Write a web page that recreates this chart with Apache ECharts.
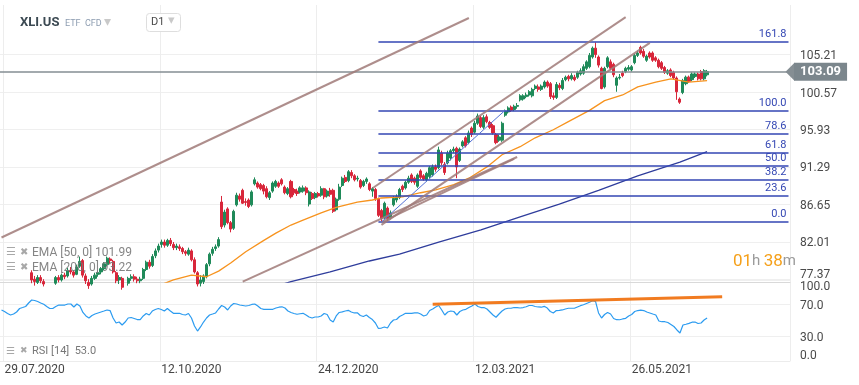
<!DOCTYPE html>
<html><head><meta charset="utf-8">
<script src="https://cdn.jsdelivr.net/npm/echarts@6/dist/echarts.min.js"></script>
<style>html,body{margin:0;padding:0;background:#fff}#c{width:859px;height:385px}</style>
</head><body><div id="c"></div>
<script>
// ---------- data ----------
const startDate = '2020-07-28';
const holidays = ['2020-09-07','2020-11-26','2020-12-25','2021-01-01','2021-01-18','2021-02-15','2021-04-02','2021-05-31','2021-07-05'];
const slotCount = 262;
const tickDates = ['29.07.2020','12.10.2020','24.12.2020','12.03.2021','26.05.2021'];
const priceTicks = [77.37, 82.01, 86.65, 91.29, 95.93, 100.57, 105.21];
const rsiTicks = [0, 30, 70, 100];
const lastPrice = 103.09;
// [open, close, low, high]
const ohlc = [
[71.8,71.3,71.0,72.1],[71.4,72.3,71.2,72.5],[72.2,71.8,71.5,72.4],[71.7,71.4,70.9,71.9],[71.5,72.3,71.3,72.6],
[72.3,72.9,72.1,73.1],[73.0,74.0,72.9,74.2],[74.0,74.4,73.7,74.6],[74.3,75.1,74.0,75.3],[75.4,76.6,75.2,76.8],
[78.2,77.3,76.9,78.5],[77.4,77.1,76.6,77.8],[77.0,77.6,76.8,77.9],[77.6,77.2,76.9,77.9],[77.1,76.8,76.5,77.4],
[76.8,76.4,76.1,77.0],[76.3,76.1,75.8,76.7],[76.2,76.6,76.0,76.9],[76.9,77.6,76.7,77.8],[77.6,77.3,77.0,77.9],
[77.3,77.9,77.1,78.1],[77.9,77.7,77.4,78.2],[77.8,78.5,77.6,78.8],[78.5,78.3,78.0,78.9],[78.3,77.9,77.6,78.5],
[78.0,78.9,77.9,79.2],[79.0,79.6,78.8,80.2],[79.7,77.9,77.6,79.9],[77.8,77.2,76.8,78.1],[77.0,76.6,76.2,77.4],
[76.8,77.5,76.6,77.8],[77.5,77.9,77.3,78.2],[78.0,78.2,77.7,78.5],[78.3,78.7,78.0,78.9],[78.7,79.3,78.5,79.5],
[79.2,80.0,79.0,80.2],[79.9,79.7,79.3,80.1],[79.6,78.3,78.1,79.8],[78.2,77.2,76.9,78.4],[77.3,77.6,76.8,77.9],
[77.5,76.4,76.1,77.7],[76.4,76.8,75.9,77.0],[76.9,77.5,76.6,77.7],[77.5,77.7,77.2,78.0],[77.7,77.4,77.1,78.0],
[77.4,77.2,76.9,77.7],[77.2,77.4,76.9,77.7],[77.5,78.6,77.3,78.8],[78.6,79.5,78.4,79.7],[79.5,79.0,78.7,79.8],
[79.1,80.2,78.9,80.5],[80.3,80.9,80.0,81.2],[81.0,81.5,80.7,81.8],[81.7,82.0,81.3,82.3],[82.0,81.6,81.3,82.3],
[81.6,82.2,81.4,82.4],[82.2,81.8,81.5,82.5],[81.7,81.3,81.0,82.0],[81.3,81.5,81.0,81.8],[81.4,81.2,80.9,81.7],
[81.2,80.8,80.5,81.4],[80.8,80.6,80.3,81.0],[80.5,81.0,80.3,81.3],[80.9,79.8,79.6,81.1],[79.8,78.3,78.1,80.1],
[78.2,76.8,76.5,78.4],[76.9,77.3,76.5,77.9],[77.1,77.8,76.8,78.0],[77.7,79.2,77.5,79.4],[79.3,80.5,79.0,80.7],
[80.6,81.1,80.3,81.4],[81.2,81.4,80.9,81.7],[81.5,82.3,81.3,82.6],[86.95,83.9,83.6,87.7],[84.1,85.7,83.8,86.0],
[86.1,84.4,84.2,86.3],[84.4,83.6,83.2,84.6],[83.7,85.8,83.5,86.0],[86.6,87.8,86.4,88.1],[87.7,87.3,87.0,88.0],
[88.4,86.8,86.7,88.6],[87.0,86.9,86.5,87.4],[87.2,86.4,86.2,87.4],[86.6,88.2,86.4,88.4],[89.2,89.7,89.0,90.0],
[89.3,88.8,88.6,89.5],[89.1,88.6,88.4,89.3],[89.0,88.3,87.9,89.2],[88.6,87.6,87.4,88.9],[87.5,88.1,87.2,88.3],
[88.3,89.3,88.1,89.5],[88.9,89.5,88.7,89.7],[89.3,88.9,88.7,89.5],[89.7,89.2,89.0,89.9],[88.8,88.1,87.9,89.0],
[88.0,88.6,87.8,88.8],[89.5,87.6,87.4,89.7],[88.5,88.1,87.8,88.7],[88.3,88.0,87.7,88.6],[88.2,88.7,88.0,88.9],
[88.3,88.7,88.1,89.0],[88.7,88.1,87.8,88.9],[86.7,88.2,86.4,88.4],[88.0,87.4,87.2,88.2],[87.5,88.0,87.3,88.2],
[88.0,87.7,87.5,88.2],[87.8,88.6,87.6,88.9],[88.6,87.6,87.3,88.7],[87.7,88.3,87.5,88.5],[88.4,87.9,87.6,88.7],
[88.4,85.8,85.6,88.6],[86.0,87.3,85.8,87.5],[87.3,88.8,87.1,89.2],[89.0,89.9,88.8,90.1],[90.0,89.5,89.3,90.3],
[89.6,90.7,89.4,90.9],[90.6,90.2,89.9,90.9],[90.2,89.7,89.5,90.4],[89.8,89.9,89.5,90.2],[89.6,88.8,88.6,89.8],
[89.0,89.5,88.8,89.7],[89.5,89.8,89.2,90.0],[89.2,88.5,88.3,89.4],[88.3,88.6,87.6,88.8],[88.5,87.4,87.1,88.7],
[87.3,85.3,85.1,87.5],[85.9,84.9,84.5,86.1],[85.0,86.8,84.8,87.0],[86.2,84.9,84.6,86.4],[85.0,85.6,84.8,85.9],
[86.6,87.4,86.4,87.7],[87.2,87.6,86.9,87.9],[87.5,88.5,87.3,88.7],[88.9,88.5,88.2,89.1],[88.7,89.4,88.5,89.6],
[89.4,89.9,89.2,90.2],[90.3,89.5,89.3,90.5],[89.9,89.4,89.1,90.1],[88.9,90.3,88.7,90.5],[90.8,90.0,89.8,91.0],
[90.2,89.8,89.6,90.4],[89.7,90.5,89.5,90.7],[90.1,91.2,89.9,91.4],[90.3,91.3,90.1,91.6],[91.3,91.0,90.7,91.6],
[91.2,93.4,91.0,93.8],[93.0,91.8,91.5,93.3],[91.6,90.6,90.3,91.9],[91.8,93.0,91.6,93.3],[92.4,93.3,92.1,93.5],
[93.3,93.5,93.0,93.8],[93.6,91.3,89.9,93.8],[92.1,93.5,91.9,93.7],[93.9,94.4,93.7,94.6],[94.9,93.9,93.7,95.1],
[94.3,95.5,94.1,95.8],[96.1,95.3,95.0,96.3],[95.6,96.7,95.4,97.0],[96.7,97.6,96.5,97.9],[97.4,96.3,96.1,97.6],
[96.2,97.4,96.0,97.7],[97.5,96.9,96.7,97.8],[96.8,96.2,96.0,97.0],[96.4,95.5,95.3,96.6],[95.3,94.3,94.1,95.5],
[94.6,95.0,94.4,95.3],[94.6,96.7,94.4,96.9],[97.7,98.2,97.5,98.4],[98.1,98.6,97.9,98.8],[98.7,98.3,98.1,98.9],
[98.4,98.8,98.2,99.0],[98.8,98.9,98.5,99.2],[99.6,100.1,99.4,100.3],[99.7,100.1,99.5,100.3],[100.0,100.2,99.8,100.5],
[100.2,100.6,100.0,100.8],[100.1,100.9,99.9,101.1],[101.0,101.3,100.8,101.5],[101.2,100.9,100.6,101.5],[100.9,101.3,100.7,101.5],
[101.2,101.8,101.0,102.0],[101.8,101.3,101.1,102.0],[101.6,100.0,99.7,101.8],[100.1,99.9,99.6,100.5],[99.9,101.5,99.7,101.8],
[101.4,101.1,100.8,101.7],[101.0,102.0,100.8,102.3],[102.1,102.4,101.9,102.6],[102.5,102.2,101.9,102.7],[102.2,102.6,102.0,102.9],
[102.4,102.1,101.9,102.7],[102.4,103.0,102.2,103.2],[102.8,103.2,102.6,103.5],[102.9,103.7,102.7,104.0],[103.5,104.3,103.3,104.5],
[103.7,105.1,103.5,105.4],[104.9,106.0,104.7,106.2],[106.0,105.2,104.8,106.7],[104.9,103.9,103.6,105.1],[103.5,101.0,100.9,103.7],
[101.2,103.5,101.0,103.7],[103.7,104.8,103.5,105.0],[104.3,103.5,103.3,104.6],[104.0,102.7,102.4,104.2],[101.4,102.3,100.6,102.5],
[102.3,102.4,102.1,102.8],[102.9,102.6,102.4,103.2],[103.1,103.5,102.9,103.7],[103.4,103.6,103.2,103.9],[103.3,103.7,103.1,103.9],
[104.2,105.1,104.0,105.3],[105.1,105.4,104.9,105.7],[106.1,105.4,105.2,106.3],[105.6,105.0,104.8,105.9],[104.5,105.0,104.3,105.2],
[105.4,104.9,104.7,105.6],[105.4,104.5,104.3,105.6],[104.8,104.5,104.3,105.0],[104.5,103.7,103.5,104.7],[104.2,103.5,103.3,104.4],
[103.6,103.0,102.8,103.8],[102.9,103.2,102.7,103.4],[103.3,102.6,102.4,103.5],[103.0,102.3,102.1,103.2],[102.3,100.6,99.6,102.5],
[99.7,99.3,99.1,99.9],[100.5,102.0,100.3,102.2],[101.6,102.4,101.4,102.6],[102.4,101.9,101.7,102.6],[102.1,102.8,101.9,103.0],
[102.5,102.8,102.3,103.0],[102.8,102.2,102.0,103.0],[103.1,102.2,102.0,103.3],[102.2,103.2,102.0,103.4],[102.7,103.09,102.5,103.3]
];
const rsi = [
63,61,58.6,56.8,58,60.5,64.8,66,67.3,71.6, 75.3,74.7,73.5,71.6,70,67.3,64.8,64.8,67.3,69.1,
69.1,69.1,70.4,70.4,66.7,70.4,67.9,59.9,55.6,53.1, 56.2,58,59.3,60.5,61.7,63,62.3,53.1,46.9,48.1,
44.4,48.1,53.1,53.7,52.5,51.2,51.2,55.6,58.6,56.8, 61.7,63.6,64.8,63.6,61.7,64.8,61.7,58.9,58.9,58.9,
57.4,56.8,58.6,53.1,43.2,37,42,48.1,53.1,56.8, 58,59.3,64.2,68.5,66.7,63,67.9,71,70.4,69.1,
68.5,67.9,68.5,69.8,70.4,67.9,64.8,63.8,63.8,63.8, 63.8,65.4,66.4,66.9,65.4,61.7,59.9,58.6,57.7,58.3,
58.9,56.8,54.3,53.1,54.3,54.3,55.6,58.6,57.4,50.6, 48.1,55.6,59.9,60.7,61.7,62.6,60.5,59.3,59.5,56.2,
54.9,56.8,53.7,51.2,46.9,40.1,40.7,42,40.7,46.9, 50.6,51.2,54.9,56.8,58.9,58.9,58.9,59.3,59.5,58,
55.6,56.8,62.3,64.2,66.7,68.5,63,56.8,60.5,61.7, 61.1,56.8,61.1,63,63.8,66,67.9,70.4,67.3,66,
66,64.2,60.5,56.8,54,58,61.7,64.2,65.1,65.1, 66,66,65.4,66,67,68.5,68.5,67.3,66.7,66.4,
67.5,65.4,61.1,59.3,62.3,62.6,63,64.2,65.1,65.1, 65.1,66.7,68.3,69.5,71,72.5,74.4,73.5,59.3,53.1,
57.4,59.9,58,52.5,51,50.9,51.9,52.7,55.6,57.4, 61.1,62.3,62.7,62.3,60.5,59.3,58,56.8,49.4,48.5,
48.5,47.5,45.1,42.6,38.3,34.6,44.4,45.4,46.5,47.9, 48.1,46.3,46.9,50.6,53.1
];
// [bar index, value]
const ema50 = [[50,76.3],[57,77.3],[63,77.9],[68,77.7],[72,78.4],[76,79.4],[81,80.8],[87,82.2],[91,83.1],[96,84.1],[100,84.7],[106,85.6],[111,86.3],[118,86.95],[123,87.2],[126,87.45],[133,87.6],[139,88.1],[144,88.45],[150,89.1],[155,89.9],[161,91.3],[166,92.8],[172,93.8],[177,94.9],[183,95.9],[188,96.9],[195,98.3],[200,99.5],[206,100.2],[211,101.2],[217,101.8],[222,102.2],[228,101.8],[234,101.99]];
const ema200 = [[90,76.4],[96,77.1],[109,78.3],[122,79.65],[132,80.5],[145,82.0],[159,83.5],[172,85.1],[185,86.7],[198,88.4],[211,90.2],[225,91.9],[234,93.2]];
const fibLow = 84.47, fibHigh = 98.30, fibStart = 125, fibEnd = 261;
const fibRatios = [0, 23.6, 38.2, 50, 61.8, 78.6, 100, 161.8];
const trendLines = [ [[0,82.56],[155,109.73]], [[123,88.66],[207,109.83]], [[126,84.13],[215,106.65]], [[80,77.09],[171,92.52]], [[126,84.47],[170,92.3]] ];
const fibDiagonal = [[126,84.47],[167,98.30]];
const rsiTrend = [[143,70.0],[239,79.4]];
const legendEma50 = 'EMA [50, 0] 101.99';
const legendEma200 = 'EMA [200, 0] 93.22';
const legendRsi = 'RSI [14]  53.0';

// ---------- build ----------
function pad(n){return (n<10?'0':'')+n;}
function buildDates(){
  const out=[]; const d=new Date(startDate+'T00:00:00Z');
  while(out.length<slotCount){
    const wd=d.getUTCDay(); const iso=d.toISOString().slice(0,10);
    if(wd!==0&&wd!==6&&holidays.indexOf(iso)<0){
      out.push(pad(d.getUTCDate())+'.'+pad(d.getUTCMonth()+1)+'.'+d.getUTCFullYear());
    }
    d.setUTCDate(d.getUTCDate()+1);
  }
  return out;
}
const dates = buildDates();
const isTick = (i, v) => tickDates.indexOf(v) >= 0;

const FONT = 'Roboto, "Noto Sans", sans-serif';
const UP = '#1f8a59', DOWN = '#d8263a';
const BROWN = 'rgba(160,122,120,0.85)';
const FIB = '#3346b3';

const fibData = fibRatios.map(r => {
  const lvl = fibLow + (fibHigh - fibLow) * r / 100;
  return [{coord:[fibStart, lvl], label:{formatter: r.toFixed(1)}}, {coord:[fibEnd, lvl]}];
});

const chart = echarts.init(document.getElementById('c'), null, {renderer:'canvas'});
chart.setOption({
  animation:false,
  backgroundColor:'#fff',
  textStyle:{fontFamily:FONT},
  grid:[
    {left:0, right:69, top:5, height:277, containLabel:false, outerBoundsMode:'none'},
    {left:0, right:69, top:280, height:81, containLabel:false, outerBoundsMode:'none'}
  ],
  xAxis:[
    {type:'category', gridIndex:0, data:dates, boundaryGap:true,
     axisLine:{show:true, lineStyle:{color:'#d9d9d9'}}, axisTick:{show:false}, axisLabel:{show:false},
     splitLine:{show:true, interval:isTick, lineStyle:{color:'#ededed'}}},
    {type:'category', gridIndex:1, data:dates, boundaryGap:true,
     axisLine:{show:true, lineStyle:{color:'#ececec'}}, axisTick:{show:false},
     axisLabel:{interval:isTick, align:'left', color:'#454545', fontSize:12, margin:3, fontFamily:FONT},
     splitLine:{show:true, interval:isTick, lineStyle:{color:'#ededed'}}}
  ],
  yAxis:[
    {type:'value', gridIndex:0, position:'right', min:77.05, max:111.34,
     axisLine:{show:false}, axisTick:{show:false, customValues:priceTicks},
     axisLabel:{customValues:priceTicks, color:'#4a4a4a', fontSize:12, margin:10, fontFamily:FONT,
       formatter:v => v===priceTicks[0] ? '{b|'+v.toFixed(2)+'}' : '{m|'+v.toFixed(2)+'}',
       rich:{b:{padding:[0,0,8,0], color:'#4a4a4a', fontSize:12}, m:{padding:[3,0,0,0], color:'#4a4a4a', fontSize:12}}},
     splitLine:{show:true, lineStyle:{color:'#efefef'}}},
    {type:'value', gridIndex:1, position:'right', min:0, max:100,
     axisLine:{show:false}, axisTick:{show:false, customValues:rsiTicks},
     axisLabel:{customValues:rsiTicks, color:'#4a4a4a', fontSize:12, margin:10, fontFamily:FONT,
       formatter:v => v===100 ? '{t|100.0}' : (v===0 ? '{b|0.0}' : '{m|'+v.toFixed(1)+'}'),
       rich:{t:{padding:[14,0,0,0], color:'#4a4a4a', fontSize:12}, b:{padding:[0,0,10,0], color:'#4a4a4a', fontSize:12}, m:{padding:[3,0,0,0], color:'#4a4a4a', fontSize:12}}},
     splitLine:{show:true, lineStyle:{color:'#efefef'}}}
  ],
  series:[
    {type:'candlestick', xAxisIndex:0, yAxisIndex:0, data:ohlc.map(d=>[d[0],d[1],d[2],d[3]]),
     barWidth:'85%', clip:true,
     itemStyle:{color:UP, color0:DOWN, borderColor:UP, borderColor0:DOWN, borderWidth:1},
     markLine:{silent:true, symbol:['none','none'], animation:false,
       lineStyle:{color:FIB, width:1.5, type:'solid'},
       label:{show:true, position:'insideEndTop', color:FIB, fontSize:11, distance:2, fontFamily:FONT},
       data:fibData}
    },
    {type:'line', xAxisIndex:0, yAxisIndex:0, data:ema50, connectNulls:true, showSymbol:false, symbol:'none',
     lineStyle:{color:'#f7931e', width:1.3}, z:3,
     markLine:{silent:true, animation:false,
       symbol:['none','path://M0,0 L10,0 L5,10 Z'], symbolSize:[18,9],
       lineStyle:{color:'#858e93', width:1.5, type:'solid'},
       itemStyle:{color:'#7b868c'},
       label:{show:true, position:'end', distance:4, formatter:lastPrice.toFixed(2), color:'#fff',
           backgroundColor:'#7b868c', padding:[3,6,2,6], fontSize:13, fontWeight:'bold', fontFamily:FONT},
       data:[{yAxis:lastPrice}]}
    },
    {type:'line', xAxisIndex:0, yAxisIndex:0, data:ema200, connectNulls:true, showSymbol:false, symbol:'none',
     lineStyle:{color:'#2f3d9c', width:1.3}, z:3,
     markLine:{silent:true, symbol:['none','none'], animation:false, label:{show:false},
       lineStyle:{color:BROWN, width:2, type:'solid'},
       data: trendLines.map(l=>[{coord:l[0]},{coord:l[1]}]).concat([
         [{coord:fibDiagonal[0], lineStyle:{color:'#5572d6', width:1}},{coord:fibDiagonal[1]}]
       ])}
    },
    {type:'line', xAxisIndex:1, yAxisIndex:1, data:rsi, showSymbol:false, symbol:'none',
     lineStyle:{color:'#2b9bf0', width:1.2},
     markLine:{silent:true, symbol:['none','none'], animation:false, label:{show:false},
       lineStyle:{color:'rgba(240,116,20,0.95)', width:3, type:'solid'},
       data:[[{coord:rsiTrend[0]},{coord:rsiTrend[1]}]]}
    }
  ],
  graphic:[
    {type:'text', left:20, top:16, z:100, style:{text:'XLI.US', font:'bold 13px '+FONT, fill:'#3b4952'}},
    {type:'text', left:65, top:19, z:100, style:{text:'ETF  CFD', font:'9px '+FONT, fill:'#8c9cb0'}},
    {type:'text', left:104, top:15, z:100, style:{text:'▾', font:'14px '+FONT, fill:'#c9c9c9'}},
    {type:'rect', left:146, top:13, z:100, shape:{width:34, height:18, r:3}, style:{fill:'#fff', stroke:'#dedede', lineWidth:1}},
    {type:'text', left:151, top:17, z:101, style:{text:'D1', font:'11px '+FONT, fill:'#4a4a4a'}},
    {type:'text', left:168, top:14, z:101, style:{text:'▾', font:'13px '+FONT, fill:'#c9c9c9'}},
    {type:'text', left:6, top:247, z:100, style:{text:'☰', font:'11px '+FONT, fill:'#a8a8a8'}},
    {type:'text', left:20, top:247, z:100, style:{text:'✖', font:'10px '+FONT, fill:'#a8a8a8'}},
    {type:'text', left:32, top:247, z:100, style:{text:legendEma50, font:'12px '+FONT, fill:'rgba(120,120,120,0.9)'}},
    {type:'text', left:6, top:262, z:100, style:{text:'☰', font:'11px '+FONT, fill:'#a8a8a8'}},
    {type:'text', left:20, top:262, z:100, style:{text:'✖', font:'10px '+FONT, fill:'#a8a8a8'}},
    {type:'text', left:32, top:262, z:100, style:{text:legendEma200, font:'12px '+FONT, fill:'rgba(120,120,120,0.9)'}},
    {type:'text', left:6, top:346, z:100, style:{text:'☰', font:'10px '+FONT, fill:'#a8a8a8'}},
    {type:'text', left:20, top:346, z:100, style:{text:'✖', font:'9px '+FONT, fill:'#a8a8a8'}},
    {type:'text', left:32, top:346, z:100, style:{text:legendRsi, font:'11px '+FONT, fill:'#777'}},
    {type:'text', left:733, top:253, z:100, style:{text:'{o|01}{g|h} {o|38}{g|m}', rich:{o:{fill:'#f5a01a', font:'17px '+FONT}, g:{fill:'#9a9a9a', font:'15px '+FONT}}}}
  ]
});
</script></body></html>
